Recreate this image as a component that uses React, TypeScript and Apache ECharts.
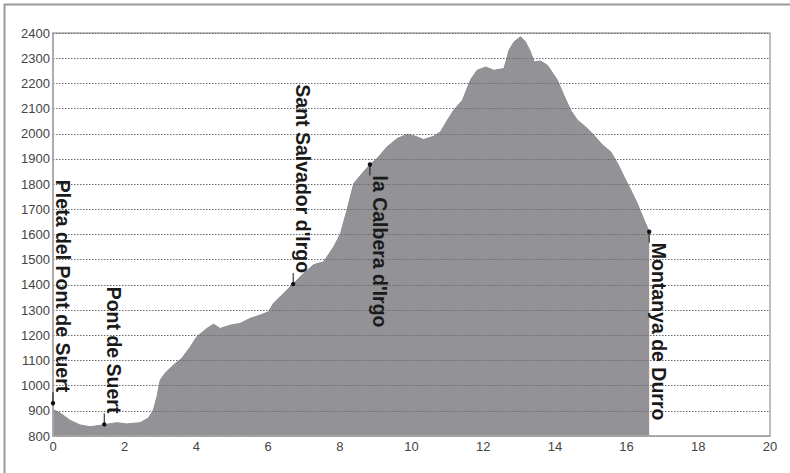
import React, { useEffect, useRef } from "react";
import * as echarts from "echarts";

// Profile: distance (km) and elevation (m)
const distance = [0, 0.2, 0.47, 0.75, 1.03, 1.4, 1.78, 2.06, 2.43, 2.66, 2.8, 2.9, 2.99, 3.13, 3.36, 3.59, 3.83, 4.01, 4.29, 4.48, 4.66, 4.94, 5.22, 5.5, 5.78, 6.01, 6.15, 6.43, 6.71, 6.99, 7.27, 7.55, 7.83, 8.02, 8.2, 8.39, 8.62, 8.84, 9.04, 9.32, 9.6, 9.88, 10.11, 10.34, 10.62, 10.81, 11.0, 11.18, 11.42, 11.65, 11.83, 12.07, 12.3, 12.58, 12.72, 12.86, 13.04, 13.18, 13.32, 13.42, 13.6, 13.79, 14.07, 14.25, 14.44, 14.63, 14.86, 15.09, 15.33, 15.56, 15.75, 15.93, 16.12, 16.3, 16.49, 16.63];
const elevation = [905, 891, 863, 844, 837, 844, 853, 848, 853, 871, 903, 956, 1022, 1050, 1082, 1108, 1154, 1194, 1227, 1244, 1227, 1240, 1247, 1267, 1280, 1293, 1327, 1366, 1406, 1446, 1480, 1492, 1551, 1604, 1697, 1803, 1842, 1878, 1902, 1948, 1981, 1998, 1990, 1977, 1990, 2008, 2054, 2094, 2133, 2215, 2252, 2265, 2252, 2259, 2332, 2365, 2385, 2365, 2325, 2285, 2289, 2272, 2213, 2153, 2094, 2054, 2027, 1994, 1955, 1928, 1882, 1829, 1776, 1723, 1657, 1611];

// Waypoints
const waypointNames = ["Pleta del Pont de Suert", "Pont de Suert", "Sant Salvador d'Irgo", "la Calbera d'Irgo", "Montanya de Durro"];
const waypointDistance = [0, 1.43, 6.7, 8.84, 16.63];
const waypointElevation = [930, 846, 1403, 1878, 1611];
const waypointAbove = [1, 1, 1, 0, 0];

const xTicks = [0, 20, 2];
const yTicks = [800, 2400, 100];

export default function App() {
  const ref = useRef<HTMLDivElement>(null);
  useEffect(() => {
    if (!ref.current) return;
    const chart = echarts.init(ref.current, null, { renderer: "svg" });
    const profile = distance.map((d, i) => [d, elevation[i]]);
    const marks = waypointDistance.map((d, i) => [d, waypointElevation[i], waypointAbove[i]]);
    const font = '"Liberation Sans", Arial, sans-serif';
    const gap = 11;
    chart.setOption({
      animation: false,
      backgroundColor: "#ffffff",
      grid: {
        left: 53,
        top: 33,
        right: 20,
        bottom: 37,
        show: true,
        borderColor: "#a8a8a8",
        borderWidth: 1.5,
        backgroundColor: "transparent",
      },
      graphic: [
        { type: "line", shape: { x1: 4, y1: 4.5, x2: 790, y2: 4.5 }, style: { stroke: "#9a9a9a", lineWidth: 2 } },
        { type: "line", shape: { x1: 4.5, y1: 4, x2: 4.5, y2: 473 }, style: { stroke: "#9a9a9a", lineWidth: 2 } },
      ],
      xAxis: {
        type: "value",
        min: xTicks[0],
        max: xTicks[1],
        interval: xTicks[2],
        z: 4,
        axisLine: { show: true, lineStyle: { color: "#a8a8a8", width: 1.5 } },
        axisTick: { show: false },
        splitLine: { show: false },
        axisLabel: { color: "#444", fontSize: 13, fontFamily: font, margin: 4, formatter: (v: number) => String(v) },
      },
      yAxis: {
        type: "value",
        min: yTicks[0],
        max: yTicks[1],
        interval: yTicks[2],
        z: 4,
        axisLine: { show: true, lineStyle: { color: "#a8a8a8", width: 1.5 } },
        axisTick: { show: false },
        splitLine: { show: true, lineStyle: { color: "#6a6a6a", type: [1.5, 1.5], width: 1 } },
        axisLabel: { color: "#444", fontSize: 13, fontFamily: font, margin: 3, formatter: (v: number) => String(v) },
      },
      series: [
        {
          type: "line",
          data: profile,
          symbol: "none",
          z: 2,
          lineStyle: { color: "#8e8e92", width: 1 },
          areaStyle: { color: "#939397", opacity: 1, origin: "start" },
        },
        {
          type: "custom",
          z: 6,
          data: marks,
          renderItem: (params: any, api: any) => {
            const p = api.coord([api.value(0), api.value(1)]);
            const above = api.value(2) === 1;
            const dir = above ? -1 : 1;
            const endY = p[1] + dir * gap;
            return {
              type: "group",
              children: [
                { type: "line", shape: { x1: p[0], y1: p[1], x2: p[0], y2: endY }, style: { stroke: "#111", lineWidth: 1 } },
                { type: "circle", shape: { cx: p[0], cy: p[1], r: 2.2 }, style: { fill: "#111" } },
                {
                  type: "text",
                  x: p[0],
                  y: endY,
                  rotation: -Math.PI / 2,
                  style: {
                    text: waypointNames[params.dataIndex],
                    font: `bold 19.5px ${font}`,
                    fill: "#1a1a1a",
                    align: above ? "right" : "left",
                    verticalAlign: "bottom",
                  },
                },
              ],
            };
          },
        },
      ],
    });
    return () => chart.dispose();
  }, []);
  return (
    <div
      ref={ref}
      style={{ position: "absolute", left: 0, top: 0, width: 790, height: 473, background: "#fff" }}
    />
  );
}
